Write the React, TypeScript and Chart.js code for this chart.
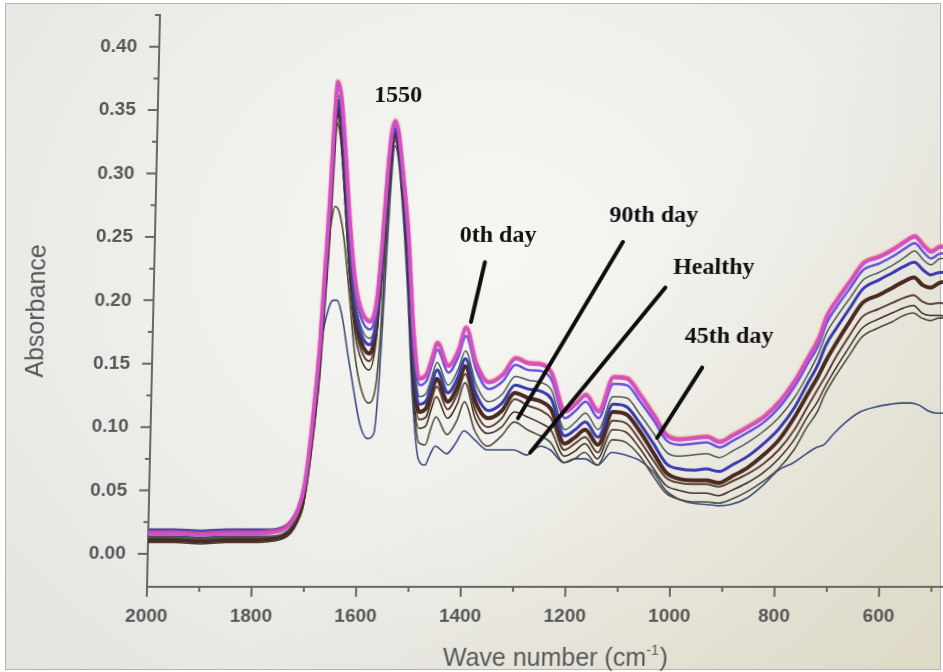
import React, { useEffect, useRef } from 'react';
import { Chart, registerables } from 'chart.js';

Chart.register(...registerables);

// Wave number grid (cm^-1), shared by all spectra
const wavenumbers = [
  2000, 1950, 1900, 1850, 1800, 1762, 1742, 1728, 1715, 1704,
  1696, 1688, 1680, 1674, 1667, 1662, 1657, 1649, 1639, 1626,
  1613, 1600, 1585, 1573, 1565, 1558, 1552, 1545, 1538, 1528,
  1515, 1501, 1487, 1474, 1465, 1455, 1433, 1415, 1401, 1380,
  1355, 1329, 1305, 1280, 1254, 1235, 1208, 1188, 1169, 1144,
  1117, 1091, 1065, 1038, 1012, 986, 961, 936, 911, 887,
  857, 827, 798, 769, 745, 726, 712, 693, 668, 644,
  614, 587, 565, 547, 530, 515, 497, 480,
];

// Absorbance spectra
const traceMagenta = [
  0.016, 0.016, 0.015, 0.016, 0.016, 0.017, 0.019, 0.024, 0.034, 0.052,
  0.080, 0.118, 0.165, 0.218, 0.280, 0.338, 0.372, 0.360, 0.318, 0.255,
  0.210, 0.190, 0.183, 0.200, 0.245, 0.298, 0.330, 0.341, 0.332, 0.300,
  0.252, 0.175, 0.138, 0.142, 0.154, 0.166, 0.148, 0.160, 0.178, 0.150,
  0.135, 0.141, 0.154, 0.150, 0.149, 0.142, 0.112, 0.118, 0.125, 0.112,
  0.139, 0.138, 0.125, 0.109, 0.093, 0.090, 0.091, 0.092, 0.088, 0.093,
  0.100, 0.108, 0.120, 0.137, 0.155, 0.170, 0.187, 0.200, 0.215, 0.229,
  0.234, 0.240, 0.246, 0.250, 0.243, 0.238, 0.242, 0.241,
];
const traceViolet = [
  0.018, 0.018, 0.017, 0.018, 0.018, 0.019, 0.021, 0.026, 0.036, 0.053,
  0.080, 0.117, 0.163, 0.215, 0.276, 0.334, 0.369, 0.356, 0.313, 0.249,
  0.204, 0.184, 0.177, 0.194, 0.240, 0.294, 0.327, 0.339, 0.330, 0.297,
  0.248, 0.170, 0.133, 0.137, 0.149, 0.161, 0.143, 0.155, 0.172, 0.145,
  0.130, 0.136, 0.149, 0.145, 0.144, 0.137, 0.107, 0.113, 0.120, 0.107,
  0.134, 0.133, 0.120, 0.105, 0.089, 0.086, 0.087, 0.088, 0.084, 0.089,
  0.096, 0.104, 0.116, 0.133, 0.151, 0.165, 0.182, 0.195, 0.210, 0.224,
  0.229, 0.235, 0.241, 0.245, 0.238, 0.233, 0.237, 0.237,
];
const traceSlate = [
  0.013, 0.013, 0.012, 0.013, 0.013, 0.014, 0.016, 0.021, 0.031, 0.048,
  0.075, 0.111, 0.156, 0.207, 0.268, 0.326, 0.362, 0.350, 0.306, 0.242,
  0.197, 0.177, 0.170, 0.188, 0.234, 0.289, 0.323, 0.337, 0.328, 0.294,
  0.244, 0.162, 0.124, 0.127, 0.139, 0.151, 0.133, 0.145, 0.160, 0.134,
  0.120, 0.126, 0.140, 0.137, 0.135, 0.129, 0.098, 0.104, 0.111, 0.098,
  0.124, 0.123, 0.110, 0.095, 0.080, 0.077, 0.078, 0.079, 0.076, 0.081,
  0.088, 0.097, 0.108, 0.124, 0.142, 0.158, 0.174, 0.187, 0.202, 0.216,
  0.222, 0.228, 0.234, 0.239, 0.232, 0.228, 0.233, 0.233,
];
const traceBlue = [
  0.019, 0.019, 0.018, 0.019, 0.019, 0.019, 0.021, 0.025, 0.034, 0.050,
  0.076, 0.110, 0.153, 0.203, 0.263, 0.322, 0.358, 0.346, 0.301, 0.237,
  0.192, 0.172, 0.165, 0.184, 0.231, 0.286, 0.320, 0.335, 0.326, 0.291,
  0.240, 0.156, 0.118, 0.121, 0.133, 0.145, 0.127, 0.139, 0.154, 0.127,
  0.113, 0.119, 0.133, 0.130, 0.128, 0.122, 0.093, 0.098, 0.104, 0.092,
  0.118, 0.116, 0.103, 0.087, 0.071, 0.067, 0.066, 0.067, 0.065, 0.070,
  0.077, 0.087, 0.099, 0.116, 0.135, 0.150, 0.165, 0.178, 0.194, 0.209,
  0.216, 0.222, 0.227, 0.230, 0.224, 0.220, 0.222, 0.222,
];
const traceUmber = [
  0.011, 0.011, 0.010, 0.011, 0.011, 0.012, 0.014, 0.019, 0.029, 0.046,
  0.072, 0.106, 0.148, 0.198, 0.257, 0.316, 0.352, 0.340, 0.295, 0.231,
  0.186, 0.166, 0.158, 0.178, 0.226, 0.282, 0.317, 0.333, 0.324, 0.288,
  0.236, 0.150, 0.112, 0.115, 0.127, 0.138, 0.120, 0.132, 0.148, 0.120,
  0.107, 0.113, 0.127, 0.123, 0.120, 0.114, 0.087, 0.092, 0.098, 0.086,
  0.112, 0.110, 0.097, 0.080, 0.064, 0.059, 0.058, 0.058, 0.056, 0.061,
  0.068, 0.078, 0.090, 0.108, 0.126, 0.140, 0.152, 0.166, 0.183, 0.198,
  0.204, 0.210, 0.215, 0.218, 0.212, 0.210, 0.214, 0.215,
];
const traceBrown = [
  0.013, 0.013, 0.012, 0.013, 0.013, 0.013, 0.015, 0.019, 0.028, 0.044,
  0.069, 0.102, 0.143, 0.192, 0.251, 0.310, 0.347, 0.334, 0.289, 0.225,
  0.180, 0.160, 0.152, 0.172, 0.221, 0.278, 0.314, 0.331, 0.322, 0.285,
  0.232, 0.143, 0.106, 0.108, 0.120, 0.132, 0.114, 0.126, 0.142, 0.113,
  0.100, 0.107, 0.122, 0.117, 0.113, 0.107, 0.082, 0.087, 0.092, 0.080,
  0.105, 0.103, 0.090, 0.074, 0.060, 0.056, 0.055, 0.055, 0.053, 0.057,
  0.063, 0.071, 0.082, 0.098, 0.116, 0.130, 0.140, 0.155, 0.172, 0.187,
  0.193, 0.198, 0.202, 0.204, 0.199, 0.197, 0.198, 0.197,
];
const traceSepia = [
  0.009, 0.009, 0.008, 0.009, 0.009, 0.010, 0.012, 0.016, 0.025, 0.040,
  0.065, 0.097, 0.137, 0.186, 0.244, 0.303, 0.340, 0.327, 0.282, 0.218,
  0.173, 0.153, 0.145, 0.166, 0.216, 0.274, 0.311, 0.328, 0.319, 0.282,
  0.228, 0.136, 0.099, 0.101, 0.113, 0.124, 0.107, 0.118, 0.135, 0.107,
  0.095, 0.100, 0.112, 0.108, 0.103, 0.098, 0.077, 0.081, 0.087, 0.075,
  0.098, 0.096, 0.084, 0.068, 0.054, 0.050, 0.048, 0.048, 0.046, 0.050,
  0.056, 0.064, 0.075, 0.090, 0.108, 0.120, 0.132, 0.146, 0.163, 0.178,
  0.185, 0.190, 0.194, 0.196, 0.190, 0.188, 0.188, 0.187,
];
const traceOlive = [
  0.012, 0.012, 0.011, 0.012, 0.012, 0.012, 0.014, 0.018, 0.026, 0.040,
  0.075, 0.112, 0.158, 0.203, 0.248, 0.266, 0.274, 0.270, 0.250, 0.205,
  0.158, 0.131, 0.119, 0.128, 0.170, 0.245, 0.295, 0.326, 0.316, 0.280,
  0.222, 0.135, 0.088, 0.086, 0.098, 0.108, 0.094, 0.105, 0.120, 0.097,
  0.085, 0.093, 0.104, 0.098, 0.093, 0.088, 0.072, 0.075, 0.080, 0.070,
  0.090, 0.088, 0.078, 0.062, 0.048, 0.043, 0.041, 0.041, 0.040, 0.043,
  0.049, 0.057, 0.067, 0.082, 0.100, 0.112, 0.126, 0.140, 0.156, 0.171,
  0.178, 0.183, 0.188, 0.190, 0.186, 0.184, 0.186, 0.186,
];
const traceNavy = [
  0.014, 0.014, 0.013, 0.014, 0.014, 0.014, 0.015, 0.019, 0.026, 0.048,
  0.075, 0.110, 0.152, 0.176, 0.190, 0.197, 0.200, 0.200, 0.188, 0.157,
  0.128, 0.102, 0.091, 0.095, 0.140, 0.215, 0.280, 0.322, 0.312, 0.275,
  0.210, 0.125, 0.075, 0.070, 0.078, 0.085, 0.079, 0.088, 0.097, 0.090,
  0.082, 0.082, 0.082, 0.078, 0.085, 0.082, 0.072, 0.075, 0.075, 0.070,
  0.080, 0.078, 0.074, 0.065, 0.050, 0.043, 0.040, 0.039, 0.038, 0.039,
  0.044, 0.054, 0.066, 0.072, 0.079, 0.084, 0.086, 0.095, 0.105, 0.112,
  0.116, 0.118, 0.119, 0.119, 0.117, 0.113, 0.111, 0.111,
];

// Axis tick labels
const xTickLabels = ['2000', '1800', '1600', '1400', '1200', '1000', '800', '600'];
const xMinorTicks = [1900, 1700, 1500, 1300, 1100, 900, 700, 500];
const yTickLabels = ['0.00', '0.05', '0.10', '0.15', '0.20', '0.25', '0.30', '0.35', '0.40'];
const yMinorTicks = [0.025, 0.075, 0.125, 0.175, 0.225, 0.275, 0.325, 0.375, 0.425];

// Text callouts and their leader lines (wave number, absorbance)
const callouts = [
  { text: '1550', wn: 1541, abs: 0.361 },
  { text: '0th day', wn: 1344, abs: 0.251 },
  { text: '90th day', wn: 1047, abs: 0.2665 },
  { text: 'Healthy', wn: 930, abs: 0.2255 },
  { text: '45th day', wn: 898, abs: 0.171 },
];
const leaders = [
  { from: [1368, 0.230], to: [1392, 0.183] },
  { from: [1105, 0.246], to: [1298, 0.107] },
  { from: [1022, 0.210], to: [1273, 0.080] },
  { from: [948, 0.147], to: [1031, 0.0915] },
];

const series = [
  { name: 'A', values: traceMagenta, color: '#d24fcb', width: 3.5 },
  { name: 'B', values: traceViolet, color: '#6a55dc', width: 2.5 },
  { name: 'C', values: traceSlate, color: '#4c5b52', width: 1.5 },
  { name: 'D', values: traceBlue, color: '#3a3bb0', width: 3 },
  { name: 'E', values: traceUmber, color: '#4a2b22', width: 4 },
  { name: 'F', values: traceBrown, color: '#5e4234', width: 2 },
  { name: 'G', values: traceSepia, color: '#3d2b22', width: 1.5 },
  { name: 'H', values: traceOlive, color: '#4d4a36', width: 1.6 },
  { name: 'I', values: traceNavy, color: '#3b4b80', width: 1.6 },
];

const AXIS_COLOR = '#676767';
const LABEL_COLOR = '#575757';
const SANS = '"Liberation Sans", Arial, sans-serif';
const SERIF = '"Liberation Serif", "Times New Roman", serif';

const decorPlugin = {
  id: 'decor',
  beforeDatasetDraw(chart: any, args: any) {
    if (args.index === 0) {
      const ctx = chart.ctx;
      ctx.save();
      ctx.shadowColor = 'rgba(232, 70, 70, 0.85)';
      ctx.shadowOffsetY = -1.2;
      ctx.shadowBlur = 1.5;
    }
  },
  afterDatasetDraw(chart: any, args: any) {
    if (args.index === 0) chart.ctx.restore();
  },
  afterDatasetsDraw(chart: any) {
    const { ctx, scales } = chart;
    const x = scales.x;
    const y = scales.y;
    ctx.save();
    ctx.strokeStyle = '#0d0d0d';
    ctx.lineWidth = 4;
    ctx.lineCap = 'round';
    for (const l of leaders) {
      ctx.beginPath();
      ctx.moveTo(x.getPixelForValue(l.from[0]), y.getPixelForValue(l.from[1]));
      ctx.lineTo(x.getPixelForValue(l.to[0]), y.getPixelForValue(l.to[1]));
      ctx.stroke();
    }
    ctx.fillStyle = '#111';
    ctx.font = `bold 24px ${SERIF}`;
    ctx.textAlign = 'center';
    ctx.textBaseline = 'middle';
    for (const c of callouts) {
      ctx.fillText(c.text, x.getPixelForValue(c.wn), y.getPixelForValue(c.abs));
    }
    ctx.restore();
  },
  afterDraw(chart: any) {
    const { ctx, scales, chartArea } = chart;
    const x = scales.x;
    const y = scales.y;
    ctx.save();
    ctx.strokeStyle = AXIS_COLOR;
    ctx.lineWidth = 2;
    ctx.beginPath();
    for (const t of xTickLabels) {
      const px = x.getPixelForValue(Number(t));
      ctx.moveTo(px, chartArea.bottom);
      ctx.lineTo(px, chartArea.bottom + 10);
    }
    for (const t of xMinorTicks) {
      const px = x.getPixelForValue(t);
      ctx.moveTo(px, chartArea.bottom);
      ctx.lineTo(px, chartArea.bottom + 5);
    }
    for (const t of yTickLabels) {
      const py = y.getPixelForValue(Number(t));
      ctx.moveTo(chartArea.left - 10, py);
      ctx.lineTo(chartArea.left, py);
    }
    for (const t of yMinorTicks) {
      const py = y.getPixelForValue(t);
      ctx.moveTo(chartArea.left - 5, py);
      ctx.lineTo(chartArea.left, py);
    }
    ctx.stroke();

    // axis titles
    ctx.fillStyle = LABEL_COLOR;
    ctx.textBaseline = 'alphabetic';
    const main = 'Wave number (cm';
    const sup = '-1';
    const close = ')';
    ctx.font = `25px ${SANS}`;
    const wMain = ctx.measureText(main).width;
    const wClose = ctx.measureText(close).width;
    ctx.font = `14px ${SANS}`;
    const wSup = ctx.measureText(sup).width;
    const total = wMain + wSup + 1 + wClose;
    let tx = 557 - total / 2;
    const base = 666;
    ctx.textAlign = 'left';
    ctx.font = `25px ${SANS}`;
    ctx.fillText(main, tx, base);
    tx += wMain;
    ctx.font = `14px ${SANS}`;
    ctx.fillText(sup, tx, base - 11);
    tx += wSup + 1;
    ctx.font = `25px ${SANS}`;
    ctx.fillText(close, tx, base);

    ctx.translate(31, 311);
    ctx.rotate(-Math.PI / 2);
    ctx.textAlign = 'center';
    ctx.textBaseline = 'middle';
    ctx.fillText('Absorbance', 0, 0);
    ctx.restore();
  },
};

export default function App() {
  const canvasRef = useRef<HTMLCanvasElement | null>(null);

  useEffect(() => {
    const canvas = canvasRef.current;
    if (!canvas) return;
    const chart = new Chart(canvas, {
      type: 'line',
      data: {
        datasets: series.map((s) => ({
          label: s.name,
          data: wavenumbers.map((w, i) => ({ x: w, y: s.values[i] })),
          borderColor: s.color,
          borderWidth: s.width,
          pointRadius: 0,
          fill: false,
          cubicInterpolationMode: 'monotone' as const,
        })),
      },
      options: {
        animation: false,
        responsive: false,
        layout: { padding: { top: 15, left: 0, right: 0, bottom: 0 } },
        plugins: { legend: { display: false }, tooltip: { enabled: false } },
        scales: {
          x: {
            type: 'linear',
            reverse: true,
            min: 478,
            max: 2000,
            afterFit: (s: any) => {
              s.height = 85;
              s.paddingLeft = 0;
              s.paddingRight = 0;
            },
            afterBuildTicks: (s: any) => {
              s.ticks = xTickLabels.map((t) => ({ value: Number(t) }));
            },
            grid: { display: false, drawTicks: false },
            border: { display: true, color: AXIS_COLOR, width: 2 },
            ticks: {
              autoSkip: false,
              maxRotation: 0,
              padding: 18,
              color: LABEL_COLOR,
              font: { family: SANS, size: 19, weight: 'bold' },
              callback: (v: any) => String(v),
            },
          },
          y: {
            type: 'linear',
            min: -0.026,
            max: 0.425,
            afterFit: (s: any) => {
              s.width = 147;
              s.paddingTop = 0;
              s.paddingBottom = 0;
            },
            afterBuildTicks: (s: any) => {
              s.ticks = yTickLabels.map((t) => ({ value: Number(t) }));
            },
            grid: { display: false, drawTicks: false },
            border: { display: true, color: AXIS_COLOR, width: 2 },
            ticks: {
              autoSkip: false,
              padding: 22,
              color: LABEL_COLOR,
              font: { family: SANS, size: 19, weight: 'bold' },
              callback: (v: any) => Number(v).toFixed(2),
            },
          },
        },
      },
      plugins: [decorPlugin],
    });
    return () => chart.destroy();
  }, []);

  return (
    <div
      style={{
        position: 'fixed',
        left: 0,
        top: 0,
        width: 943,
        height: 672,
        background: '#ffffff',
        overflow: 'hidden',
      }}
    >
      <div
        style={{
          position: 'absolute',
          left: 5,
          top: 3,
          width: 934,
          height: 665,
          border: '1px solid #b4b4b4',
          background:
            'linear-gradient(135deg, rgba(0,0,0,0) 55%, rgba(214,204,166,0.45) 100%), radial-gradient(ellipse at 52% 38%, #f6f6f3 0%, #efefec 45%, #e3e3df 100%)',
        }}
      />
      <canvas
        ref={canvasRef}
        width={943}
        height={672}
        style={{
          position: 'absolute',
          left: 0,
          top: 0,
          transform: 'skewX(-1.3deg)',
          transformOrigin: '0px 587px',
        }}
      />
    </div>
  );
}
